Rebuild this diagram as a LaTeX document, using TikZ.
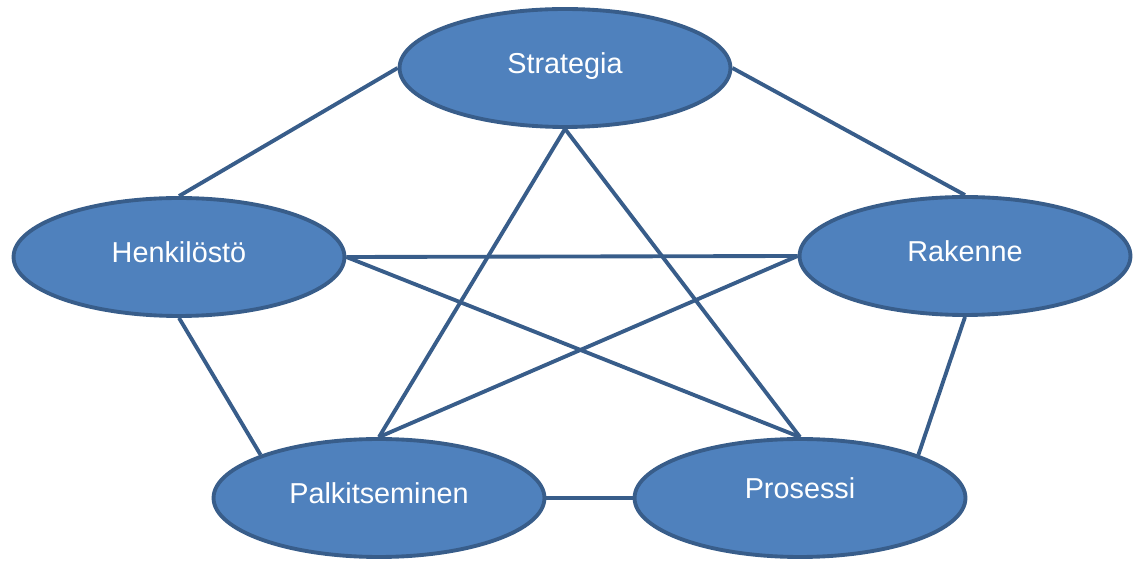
\documentclass[tikz,border=0pt]{standalone}
\usepackage{fontspec}
\setmainfont{Liberation Sans}
\usepackage{tikz}
\usetikzlibrary{shapes.geometric}

\definecolor{ovalfill}{HTML}{4F81BD}
\definecolor{ovalline}{HTML}{385D8A}

\begin{document}
\begin{tikzpicture}[
  x=0.02cm, y=-0.02cm,
  oval/.style={ellipse, draw=ovalline, fill=ovalfill, line width=2.2pt,
               minimum width=6.62cm, minimum height=2.36cm, inner sep=0pt,
               text=white, text height=0.43cm, text depth=0.2cm,
               font=\fontsize{16.4}{19}\selectfont},
  link/.style={draw=ovalline, line width=2.2pt}
]
  \useasboundingbox (0,0) rectangle (1136,563);

  \node[oval] (strat) at (565,68)  {Strategia};
  \node[oval] (henk)  at (179,257) {Henkilöstö};
  \node[oval] (rak)   at (965,256) {Rakenne};
  \node[oval] (palk)  at (379,498) {Palkitseminen};
  \node[oval, text depth=0.4cm] (pros) at (800,498) {Prosessi};

  \draw[link] (strat.west)  -- (henk.north);
  \draw[link] (strat.east)  -- (rak.north);
  \draw[link] (strat.south) -- (palk.north);
  \draw[link] (strat.south) -- (pros.north);
  \draw[link] (henk.east)   -- (rak.west);
  \draw[link] (henk.east)   -- (pros.north);
  \draw[link] (rak.west)    -- (palk.north);
  \draw[link] (henk.south)  -- (palk.north west);
  \draw[link] (rak.south)   -- (pros.north east);
  \draw[link] (palk.east)   -- (pros.west);
\end{tikzpicture}
\end{document}
